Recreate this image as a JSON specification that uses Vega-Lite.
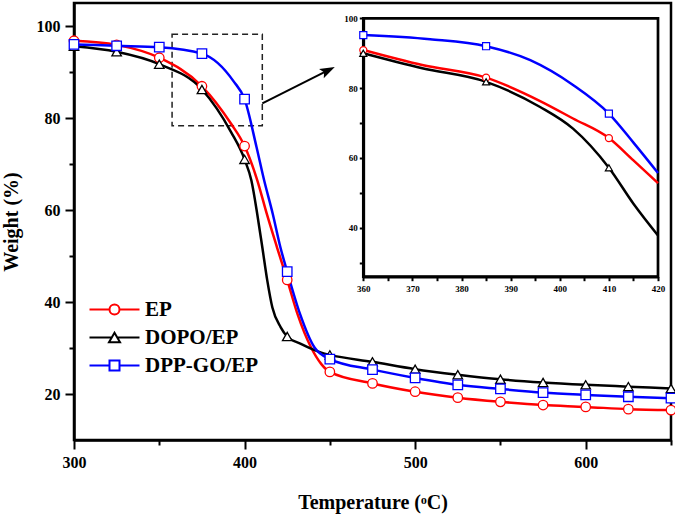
{
  "$schema": "https://vega.github.io/schema/vega-lite/v6.json",
  "width": 597,
  "height": 437,
  "autosize": {"type": "none"},
  "padding": {"left": 74, "top": 3, "right": 4, "bottom": 75},
  "background": "white",
  "config": {
    "font": "Liberation Serif",
    "view": {"stroke": "black", "strokeWidth": 2.5},
    "axis": {
      "grid": false,
      "domainColor": "black",
      "domainWidth": 2.5,
      "tickColor": "black",
      "tickWidth": 2,
      "labelColor": "black",
      "labelFont": "Liberation Serif",
      "labelFontWeight": "bold",
      "titleFont": "Liberation Serif",
      "titleFontWeight": "bold",
      "titleColor": "black",
      "labelFlush": false,
      "labelOverlap": false
    },
    "legend": {
      "orient": "none",
      "legendX": 30,
      "legendY": 296,
      "padding": 0,
      "offset": 0,
      "labelFont": "Liberation Serif",
      "labelFontWeight": "bold",
      "labelFontSize": 21,
      "labelColor": "black",
      "labelOffset": 20,
      "rowPadding": 6,
      "symbolSize": 100,
      "symbolStrokeWidth": 2,
      "symbolFillColor": "white",
      "symbolOpacity": 1
    }
  },
  "datasets": {
    "main": [
      {"s": "EP", "T": 300, "w": 96.8}, {"s": "EP", "T": 325, "w": 95.9}, {"s": "EP", "T": 350, "w": 93.1}, {"s": "EP", "T": 375, "w": 86.9}, {"s": "EP", "T": 392, "w": 78.8}, {"s": "EP", "T": 400, "w": 73.9}, {"s": "EP", "T": 407.5, "w": 66.4}, {"s": "EP", "T": 413, "w": 59.2}, {"s": "EP", "T": 419, "w": 51.9}, {"s": "EP", "T": 425, "w": 44.8}, {"s": "EP", "T": 431, "w": 37.4}, {"s": "EP", "T": 439, "w": 30.1}, {"s": "EP", "T": 445, "w": 26.5}, {"s": "EP", "T": 450, "w": 24.8}, {"s": "EP", "T": 475, "w": 22.3}, {"s": "EP", "T": 500, "w": 20.5}, {"s": "EP", "T": 525, "w": 19.2}, {"s": "EP", "T": 550, "w": 18.3}, {"s": "EP", "T": 575, "w": 17.6}, {"s": "EP", "T": 600, "w": 17.2}, {"s": "EP", "T": 625, "w": 16.7}, {"s": "EP", "T": 650, "w": 16.5},
      {"s": "DOPO/EP", "T": 300, "w": 95.6}, {"s": "DOPO/EP", "T": 325, "w": 94.4}, {"s": "DOPO/EP", "T": 350, "w": 91.7}, {"s": "DOPO/EP", "T": 375, "w": 86.2}, {"s": "DOPO/EP", "T": 392, "w": 77.0}, {"s": "DOPO/EP", "T": 400, "w": 71.0}, {"s": "DOPO/EP", "T": 404, "w": 66.4}, {"s": "DOPO/EP", "T": 407.4, "w": 59.2}, {"s": "DOPO/EP", "T": 410.4, "w": 51.9}, {"s": "DOPO/EP", "T": 413.3, "w": 44.7}, {"s": "DOPO/EP", "T": 416.3, "w": 38.8}, {"s": "DOPO/EP", "T": 421.2, "w": 34.5}, {"s": "DOPO/EP", "T": 425, "w": 32.5}, {"s": "DOPO/EP", "T": 433, "w": 30.9}, {"s": "DOPO/EP", "T": 445, "w": 29.0}, {"s": "DOPO/EP", "T": 450, "w": 28.5}, {"s": "DOPO/EP", "T": 475, "w": 27.0}, {"s": "DOPO/EP", "T": 500, "w": 25.4}, {"s": "DOPO/EP", "T": 525, "w": 24.2}, {"s": "DOPO/EP", "T": 550, "w": 23.2}, {"s": "DOPO/EP", "T": 575, "w": 22.5}, {"s": "DOPO/EP", "T": 600, "w": 22.0}, {"s": "DOPO/EP", "T": 625, "w": 21.6}, {"s": "DOPO/EP", "T": 650, "w": 21.2},
      {"s": "DPP-GO/EP", "T": 300, "w": 96.0}, {"s": "DPP-GO/EP", "T": 325, "w": 95.7}, {"s": "DPP-GO/EP", "T": 350, "w": 95.4}, {"s": "DPP-GO/EP", "T": 375, "w": 94.0}, {"s": "DPP-GO/EP", "T": 393.7, "w": 87.9}, {"s": "DPP-GO/EP", "T": 400, "w": 84.1}, {"s": "DPP-GO/EP", "T": 407, "w": 73.7}, {"s": "DPP-GO/EP", "T": 411.5, "w": 66.4}, {"s": "DPP-GO/EP", "T": 416.5, "w": 59.2}, {"s": "DPP-GO/EP", "T": 421, "w": 51.9}, {"s": "DPP-GO/EP", "T": 425, "w": 46.6}, {"s": "DPP-GO/EP", "T": 432.5, "w": 37.4}, {"s": "DPP-GO/EP", "T": 441, "w": 30.1}, {"s": "DPP-GO/EP", "T": 450, "w": 27.6}, {"s": "DPP-GO/EP", "T": 475, "w": 25.3}, {"s": "DPP-GO/EP", "T": 500, "w": 23.5}, {"s": "DPP-GO/EP", "T": 525, "w": 22.0}, {"s": "DPP-GO/EP", "T": 550, "w": 21.1}, {"s": "DPP-GO/EP", "T": 575, "w": 20.3}, {"s": "DPP-GO/EP", "T": 600, "w": 19.8}, {"s": "DPP-GO/EP", "T": 625, "w": 19.4}, {"s": "DPP-GO/EP", "T": 650, "w": 19.1}
    ],
    "inset": [
      {"s": "EP", "T": 360, "w": 90.9}, {"s": "EP", "T": 372, "w": 86.6}, {"s": "EP", "T": 385, "w": 83.0}, {"s": "EP", "T": 396, "w": 76.3}, {"s": "EP", "T": 402.7, "w": 71.3}, {"s": "EP", "T": 410, "w": 65.7}, {"s": "EP", "T": 415, "w": 59.3}, {"s": "EP", "T": 420, "w": 52.8},
      {"s": "DOPO/EP", "T": 360, "w": 90.0}, {"s": "DOPO/EP", "T": 372, "w": 85.7}, {"s": "DOPO/EP", "T": 385, "w": 81.8}, {"s": "DOPO/EP", "T": 396, "w": 74.6}, {"s": "DOPO/EP", "T": 402.7, "w": 68.4}, {"s": "DOPO/EP", "T": 410, "w": 57.2}, {"s": "DOPO/EP", "T": 415, "w": 46.9}, {"s": "DOPO/EP", "T": 420, "w": 37.8},
      {"s": "DPP-GO/EP", "T": 360, "w": 95.2}, {"s": "DPP-GO/EP", "T": 373.6, "w": 94.0}, {"s": "DPP-GO/EP", "T": 385, "w": 92.0}, {"s": "DPP-GO/EP", "T": 394, "w": 88.0}, {"s": "DPP-GO/EP", "T": 402.7, "w": 80.9}, {"s": "DPP-GO/EP", "T": 410, "w": 72.7}, {"s": "DPP-GO/EP", "T": 415, "w": 64.4}, {"s": "DPP-GO/EP", "T": 420, "w": 55.7}
    ]
  },
  "layer": [
    {
      "layer": [
        {
          "data": {"values": [{}]},
          "mark": {"type": "rect", "fillOpacity": 0, "stroke": "#222222", "strokeWidth": 1.5, "strokeDash": [6, 4]},
          "encoding": {
            "x": {"datum": 357.5, "type": "quantitative", "scale": {"domain": [300, 650], "nice": false, "zero": false}},
            "x2": {"datum": 410.4},
            "y": {"datum": 78.3, "type": "quantitative", "scale": {"domain": [10, 105], "nice": false, "zero": false}},
            "y2": {"datum": 98.2}
          }
        },
        {
          "data": {"values": [{}]},
          "mark": {"type": "rule", "stroke": "black", "strokeWidth": 2},
          "encoding": {
            "x": {"datum": 410.4, "type": "quantitative"},
            "x2": {"datum": 448},
            "y": {"datum": 83.2, "type": "quantitative"},
            "y2": {"datum": 90.2}
          }
        },
        {
          "data": {"values": [{}]},
          "mark": {"type": "point", "shape": "M0,0L-2,-0.7L-1.6,0L-2,0.7Z", "filled": true, "color": "black", "opacity": 1, "size": 225, "angle": 333.3},
          "encoding": {
            "x": {"datum": 452.9, "type": "quantitative"},
            "y": {"datum": 91.1, "type": "quantitative"}
          }
        },
        {
          "data": {"name": "main"},
          "mark": {"type": "line", "interpolate": "monotone", "strokeWidth": 2.5},
          "encoding": {
            "x": {"field": "T", "type": "quantitative", "scale": {"domain": [300, 650], "nice": false, "zero": false},
              "axis": {"orient": "bottom", "title": "Temperature (ᵒC)", "values": [300, 350, 400, 450, 500, 550, 600, 650],
                "labelExpr": "datum.value % 100 === 0 ? datum.label : ''",
                "tickSize": {"condition": {"test": "datum.value % 100 !== 0", "value": 5}, "value": 9},
                "labelFontSize": 16, "titleFontSize": 20, "labelPadding": 5, "titlePadding": 22}},
            "y": {"field": "w", "type": "quantitative", "scale": {"domain": [10, 105], "nice": false, "zero": false},
              "axis": {"orient": "left", "title": "Weight (%)", "values": [20, 30, 40, 50, 60, 70, 80, 90, 100],
                "labelExpr": "datum.value % 20 === 0 ? datum.label : ''",
                "tickSize": {"condition": {"test": "datum.value % 20 !== 0", "value": 5}, "value": 9},
                "labelFontSize": 16, "titleFontSize": 20, "labelPadding": 5, "titlePadding": 15}},
            "color": {"field": "s", "type": "nominal", "title": null, "scale": {"domain": ["EP", "DOPO/EP", "DPP-GO/EP"], "range": ["#ff0000", "#000000", "#0000ff"]}}
          }
        },
        {
          "data": {"name": "main"},
          "transform": [{"filter": "false"}],
          "mark": {"type": "point", "filled": false, "strokeWidth": 2},
          "encoding": {
            "x": {"field": "T", "type": "quantitative"},
            "y": {"field": "w", "type": "quantitative"},
            "color": {"field": "s", "type": "nominal", "title": null},
            "shape": {"field": "s", "type": "nominal", "title": null, "scale": {"domain": ["EP", "DOPO/EP", "DPP-GO/EP"],
              "range": ["M-5,0H-1M1,0A1,1,0,1,1,-1,0A1,1,0,1,1,1,0M1,0H5", "M-5,0H-0.55M0.55,0H5M0,-0.95L-1.1,0.95L1.1,0.95Z", "M-5,0H-1M1,0H5M-1,-1H1V1H-1Z"]}}
          }
        },
        {
          "data": {"name": "main"},
          "transform": [{"filter": "datum.s === 'EP' && datum.T % 25 === 0"}],
          "mark": {"type": "point", "shape": "circle", "filled": false, "fill": "white", "fillOpacity": 1, "opacity": 1, "strokeWidth": 1.3, "size": 90},
          "encoding": {
            "x": {"field": "T", "type": "quantitative"},
            "y": {"field": "w", "type": "quantitative"},
            "color": {"field": "s", "type": "nominal", "title": null}
          }
        },
        {
          "data": {"name": "main"},
          "transform": [{"filter": "datum.s === 'DOPO/EP' && datum.T % 25 === 0"}],
          "mark": {"type": "point", "shape": "triangle-up", "filled": false, "fill": "white", "fillOpacity": 1, "opacity": 1, "strokeWidth": 1.3, "size": 90},
          "encoding": {
            "x": {"field": "T", "type": "quantitative"},
            "y": {"field": "w", "type": "quantitative"},
            "color": {"field": "s", "type": "nominal", "title": null}
          }
        },
        {
          "data": {"name": "main"},
          "transform": [{"filter": "datum.s === 'DPP-GO/EP' && datum.T % 25 === 0"}],
          "mark": {"type": "point", "shape": "square", "filled": false, "fill": "white", "fillOpacity": 1, "opacity": 1, "strokeWidth": 1.3, "size": 90},
          "encoding": {
            "x": {"field": "T", "type": "quantitative"},
            "y": {"field": "w", "type": "quantitative"},
            "color": {"field": "s", "type": "nominal", "title": null}
          }
        }
      ]
    },
    {
      "layer": [
        {
          "data": {"values": [{}]},
          "mark": {"type": "rect", "fillOpacity": 0, "stroke": "black", "strokeWidth": 2.7},
          "encoding": {
            "x": {"datum": 360, "type": "quantitative", "scale": {"domain": [360, 420], "range": [289.3, 584], "nice": false, "zero": false}},
            "x2": {"datum": 420},
            "y": {"datum": 26, "type": "quantitative", "scale": {"domain": [26, 100], "range": [273.7, 15.3], "nice": false, "zero": false}},
            "y2": {"datum": 100}
          }
        },
        {
          "data": {"name": "inset"},
          "mark": {"type": "line", "interpolate": "monotone", "strokeWidth": 2.5},
          "encoding": {
            "x": {"field": "T", "type": "quantitative", "scale": {"domain": [360, 420], "range": [289.3, 584], "nice": false, "zero": false},
              "axis": {"orient": "bottom", "offset": -163.3, "title": null, "values": [360, 365, 370, 375, 380, 385, 390, 395, 400, 405, 410, 415, 420],
                "labelExpr": "datum.value % 10 === 0 ? datum.label : ''",
                "tickSize": 4, "labelFontSize": 9, "labelPadding": 4, "domainWidth": 2.7}},
            "y": {"field": "w", "type": "quantitative", "scale": {"domain": [26, 100], "range": [273.7, 15.3], "nice": false, "zero": false},
              "axis": {"orient": "left", "offset": -289.3, "title": null, "values": [30, 40, 50, 60, 70, 80, 90, 100],
                "labelExpr": "datum.value % 20 === 0 ? datum.label : ''",
                "tickSize": 4, "labelFontSize": 9, "labelPadding": 2, "domainWidth": 2.7}},
            "color": {"field": "s", "type": "nominal", "title": null}
          }
        },
        {
          "data": {"name": "inset"},
          "transform": [{"filter": "datum.s === 'EP' && (datum.T - 360) % 25 === 0"}],
          "mark": {"type": "point", "shape": "circle", "filled": false, "fill": "white", "fillOpacity": 1, "opacity": 1, "strokeWidth": 1.2, "size": 50},
          "encoding": {
            "x": {"field": "T", "type": "quantitative"},
            "y": {"field": "w", "type": "quantitative"},
            "color": {"field": "s", "type": "nominal", "title": null}
          }
        },
        {
          "data": {"name": "inset"},
          "transform": [{"filter": "datum.s === 'DOPO/EP' && (datum.T - 360) % 25 === 0"}],
          "mark": {"type": "point", "shape": "triangle-up", "filled": false, "fill": "white", "fillOpacity": 1, "opacity": 1, "strokeWidth": 1.2, "size": 50},
          "encoding": {
            "x": {"field": "T", "type": "quantitative"},
            "y": {"field": "w", "type": "quantitative"},
            "color": {"field": "s", "type": "nominal", "title": null}
          }
        },
        {
          "data": {"name": "inset"},
          "transform": [{"filter": "datum.s === 'DPP-GO/EP' && (datum.T - 360) % 25 === 0"}],
          "mark": {"type": "point", "shape": "square", "filled": false, "fill": "white", "fillOpacity": 1, "opacity": 1, "strokeWidth": 1.2, "size": 50},
          "encoding": {
            "x": {"field": "T", "type": "quantitative"},
            "y": {"field": "w", "type": "quantitative"},
            "color": {"field": "s", "type": "nominal", "title": null}
          }
        }
      ]
    }
  ],
  "resolve": {"scale": {"x": "independent", "y": "independent"}}
}
